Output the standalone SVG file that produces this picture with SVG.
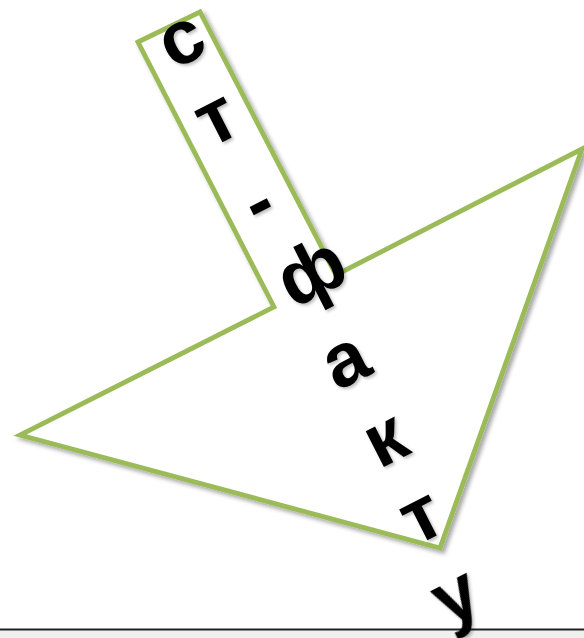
<svg xmlns="http://www.w3.org/2000/svg" width="584" height="638" viewBox="0 0 584 638">
  <defs>
    <filter id="shadow" x="-10%" y="-10%" width="130%" height="130%">
      <feDropShadow dx="3" dy="3" stdDeviation="2.2" flood-color="#000" flood-opacity="0.35"/>
    </filter>
    <filter id="tshadow" x="-30%" y="-30%" width="160%" height="160%">
      <feDropShadow dx="2" dy="2" stdDeviation="1.8" flood-color="#000" flood-opacity="0.25"/>
    </filter>
  </defs>
  <style>
    .shape { fill: #ffffff; stroke: #9BBB59; stroke-width: 4.8; stroke-linejoin: miter; }
    .ch { font-family: "Liberation Sans", Arial, sans-serif; font-weight: bold; font-size: 76px; fill: #000000; text-anchor: middle; }
  </style>
  <rect x="0" y="0" width="584" height="638" fill="#ffffff"/>
  <g id="footer">
    <rect x="0" y="630" width="584" height="8" fill="#f0f0f0"/>
    <line x1="0" y1="629.5" x2="584" y2="629.5" stroke="#222222" stroke-width="2"/>
  </g>
  <g id="arrow-shape" filter="url(#shadow)">
    <polygon class="shape" points="138,42 200,12 336,275 582,149 440,548 20,435 274,307"/>
  </g>
  <g id="label" filter="url(#tshadow)">
    <text class="ch" transform="translate(183,43) rotate(-27)" x="0" y="20">с</text>
    <text class="ch" transform="translate(218,122) rotate(-27)" x="0" y="20">т</text>
    <text class="ch" transform="translate(260,206) rotate(-27)" x="0" y="20.5">-</text>
    <text class="ch" transform="translate(314,277) rotate(-27)" x="0" y="19">ф</text>
    <text class="ch" transform="translate(347,364) rotate(-27)" x="0" y="20">а</text>
    <text class="ch" transform="translate(387,443) rotate(-27)" x="0" y="20">к</text>
    <text class="ch" transform="translate(423,520) rotate(-27)" x="0" y="20">т</text>
    <text class="ch" transform="translate(461,607) rotate(-27)" x="0" y="12">у</text>
  </g>
</svg>
